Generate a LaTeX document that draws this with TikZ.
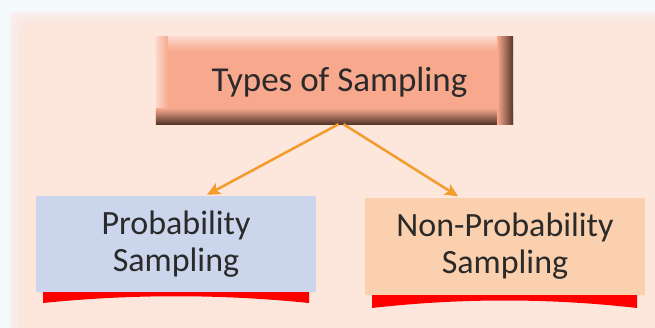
\documentclass[tikz,border=0pt]{standalone}
\usepackage{fontspec}
\setmainfont{Carlito}
\usetikzlibrary{arrows.meta,calc,positioning}
\definecolor{pageback}{HTML}{F5FAFD}
\definecolor{panelpeach}{HTML}{FDE6DC}
\definecolor{headfill}{HTML}{F8A98D}
\definecolor{headlight}{HTML}{FBD9CC}
\definecolor{headdark}{HTML}{553529}
\definecolor{probfill}{HTML}{CBD5EC}
\definecolor{nonprobfill}{HTML}{FBD0AE}
\definecolor{arroworange}{HTML}{F39C2B}
\definecolor{ribbonred}{HTML}{FF0000}
\definecolor{labelink}{HTML}{2A2A2A}
\tikzset{
  headbox/.style={fill=headfill, minimum width=357pt, minimum height=87pt,
    inner sep=0pt},
  kindbox/.style={minimum width=280pt, minimum height=96pt, inner sep=0pt,
    align=center, font=\fontsize{34}{37}\selectfont, text=labelink},
  kindflow/.style={-{Stealth[length=13pt,width=12pt,inset=3pt]},
    draw=arroworange, line width=2.5pt},
  ribbon/.style={fill=ribbonred, draw=none}
}
\begin{document}
\begin{tikzpicture}[x=1pt,y=-1pt]
  \useasboundingbox (0,0) rectangle (655,328);
  % backdrop with soft panel edge
  \fill[pageback] (0,0) rectangle (655,328);
  \foreach \k in {0,...,5}
    \fill[panelpeach, opacity=.3, rounded corners=6pt]
      (9+2.5*\k,11+2.5*\k) rectangle (670,340);
  \fill[panelpeach] (24,26) rectangle (670,340);

  % title box with bevel
  \node[headbox] (head) at (334.5,80.5) {};
  \shade[top color=headlight, bottom color=headfill]
    (head.north west) rectangle ($(head.north east)+(0,14)$);
  \shade[left color=headlight, right color=headfill]
    (head.north west) rectangle ($(head.south west)+(12,0)$);
  \shade[top color=headfill, bottom color=headdark]
    ($(head.south west)+(0,-16)$) rectangle (head.south east);
  \shade[left color=headfill, right color=headdark]
    ($(head.north east)+(-16,0)$) rectangle (head.south east);
  \fill[headfill] ($(head.north west)+(12,14)$) rectangle ($(head.south east)+(-16,-16)$);
  \node[font=\fontsize{35}{40}\selectfont, text=labelink] (headtext)
    at ($(head.center)+(5,2)$) {Types of Sampling};

  % red ribbons under the two kinds
  \fill[ribbon] (43,288) -- (309,288) -- (309,303)
    .. controls (220,294) and (132,294) .. (43,303) -- cycle;
  \fill[ribbon] (372,291) -- (637,291) -- (637,308)
    .. controls (549,298) and (460,298) .. (372,308) -- cycle;

  \node[kindbox, fill=probfill] (prob) at (176,244)
    {Probability\\Sampling};
  \node[kindbox, fill=nonprobfill] (nonprob) at (505,246.5)
    {Non-Probability\\Sampling};

  \draw[kindflow] ($(head.south)+(4,0)$) -- ($(prob.north)+(31,-1)$);
  \draw[kindflow] ($(head.south)+(9,0)$) -- ($(nonprob.north)+(-47,-2)$);
\end{tikzpicture}
\end{document}
